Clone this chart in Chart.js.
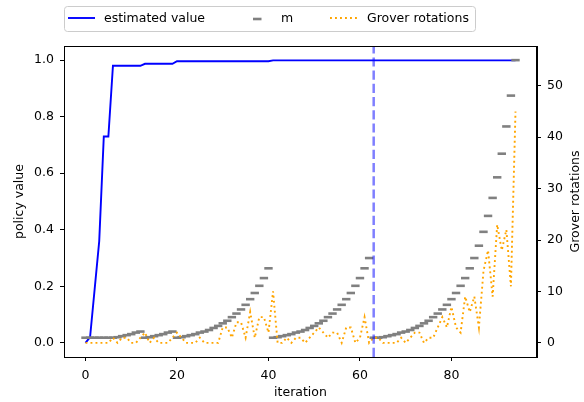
<!DOCTYPE html>
<html>
<head>
<meta charset="utf-8">
<script src="https://cdn.jsdelivr.net/npm/chart.js@4.4.0/dist/chart.umd.min.js"></script>
<style>
  html, body { margin: 0; padding: 0; background: #fff; }
</style>
</head>
<body>
<canvas id="chart" width="584" height="402"></canvas>
<script>
// iteration index (x axis)
const iterations = [
  0, 1, 2, 3, 4, 5, 6, 7, 8, 9, 10, 11, 12, 13, 14, 15, 16, 17, 18, 19,
  20, 21, 22, 23, 24, 25, 26, 27, 28, 29, 30, 31, 32, 33, 34, 35, 36, 37, 38, 39,
  40, 41, 42, 43, 44, 45, 46, 47, 48, 49, 50, 51, 52, 53, 54, 55, 56, 57, 58, 59,
  60, 61, 62, 63, 64, 65, 66, 67, 68, 69, 70, 71, 72, 73, 74, 75, 76, 77, 78, 79,
  80, 81, 82, 83, 84, 85, 86, 87, 88, 89, 90, 91, 92, 93, 94
];

// policy value (left axis)
const estimatedValue = [
  0.0, 0.02, 0.19, 0.36, 0.73, 0.73,
  0.98, 0.98, 0.98, 0.98, 0.98, 0.98, 0.98,
  0.987, 0.987, 0.987, 0.987, 0.987, 0.987, 0.987,
  0.996, 0.996, 0.996, 0.996, 0.996, 0.996, 0.996, 0.996, 0.996, 0.996, 0.996,
  0.996, 0.996, 0.996, 0.996, 0.996, 0.996, 0.996, 0.996, 0.996, 0.996,
  0.999, 0.999, 0.999, 0.999, 0.999, 0.999, 0.999, 0.999, 0.999, 0.999,
  0.999, 0.999, 0.999, 0.999, 0.999, 0.999, 0.999, 0.999, 0.999, 0.999,
  0.999, 0.999, 0.999, 0.999, 0.999, 0.999, 0.999, 0.999, 0.999, 0.999,
  0.999, 0.999, 0.999, 0.999, 0.999, 0.999, 0.999, 0.999, 0.999, 0.999,
  0.999, 0.999, 0.999, 0.999, 0.999, 0.999, 0.999, 0.999, 0.999, 0.999,
  0.999, 0.999, 0.999, 0.999
];

// m (right axis)
const mValues = [
  1, 1, 1, 1, 1, 1, 1,
  1.1, 1.3, 1.5, 1.7, 2.0, 2.2,
  1, 1.1, 1.3, 1.5, 1.7, 2.0, 2.2,
  1, 1.1, 1.3, 1.5, 1.7, 2.0, 2.2, 2.5, 2.9, 3.3, 3.8, 4.3, 5.0, 5.7, 6.5, 7.4,
  8.5, 9.7, 11.1, 12.6, 14.5,
  1, 1.1, 1.3, 1.5, 1.7, 2.0, 2.2, 2.5, 2.9, 3.3, 3.8, 4.3, 5.0, 5.7, 6.5, 7.4,
  8.5, 9.7, 11.1, 12.6, 14.5, 16.5,
  1,
  1, 1.1, 1.3, 1.5, 1.7, 2.0, 2.2, 2.5, 2.9, 3.3, 3.8, 4.3, 5.0, 5.7, 6.5, 7.4,
  8.5, 9.7, 11.1, 12.6, 14.5, 16.5, 18.9, 21.6, 24.7, 28.2, 32.2, 36.8, 42.1,
  48.1, 55.0
];

// Grover rotations (right axis)
const groverRotations = [
  0, 0, 0, 0, 0, 0, 1, 0, 1, 1, 0, 0, 1, 2, 0, 1, 0, 0, 0, 1,
  2, 1, 0, 0, 0, 1, 0, 0, 0, 0, 3, 3, 1, 4, 4, 1, 6, 1, 5, 5,
  2, 10, 0, 0, 1, 0, 1, 1, 0, 1, 2, 3, 2, 1, 2, 2, 0, 3, 3, 0,
  1, 5, 0, 1, 1, 0, 0, 0, 0, 1, 0, 1, 2, 2, 0, 1, 1, 3, 5, 3,
  7, 3, 2, 9, 6, 9, 3, 14, 18, 9, 23, 18, 22, 11, 45
];

const markerIteration = 63;
const xTicks = [0, 20, 40, 60, 80];
const leftTicks = [0, 0.2, 0.4, 0.6, 0.8, 1.0];
const rightTicks = [0, 10, 20, 30, 40, 50];

const FONT = "'DejaVu Sans', sans-serif";
const FS = 12.5;

const pts = ys => iterations.map((x, i) => ({ x: x, y: ys[i] }));
const setTicks = list => scale => { scale.ticks = list.map(v => ({ value: v })); };

const extras = {
  id: 'extras',
  afterDatasetsDraw(chart) {
    const { ctx, chartArea: a, scales } = chart;
    // vertical dashed marker
    const xv = scales.x.getPixelForValue(markerIteration);
    ctx.save();
    ctx.strokeStyle = 'rgba(0,0,255,0.5)';
    ctx.lineWidth = 2.5;
    ctx.setLineDash([9.2, 4]);
    ctx.beginPath();
    ctx.moveTo(xv, a.bottom);
    ctx.lineTo(xv, a.top);
    ctx.stroke();
    ctx.restore();
  },
  afterDraw(chart) {
    const { ctx, chartArea: a } = chart;
    ctx.save();
    // frame
    ctx.strokeStyle = '#000';
    ctx.lineWidth = 1;
    ctx.strokeRect(Math.round(a.left) + 0.5, Math.round(a.top) + 0.5,
      Math.round(a.right - a.left) - 1, Math.round(a.bottom - a.top));

    // axis titles
    ctx.fillStyle = '#000';
    ctx.font = FS + 'px ' + FONT;
    ctx.textAlign = 'center';
    ctx.textBaseline = 'middle';
    ctx.fillText('iteration', (a.left + a.right) / 2, 393);
    const cy = (a.top + a.bottom) / 2;
    ctx.save();
    ctx.translate(20, cy);
    ctx.rotate(-Math.PI / 2);
    ctx.fillText('policy value', 0, 0);
    ctx.restore();
    ctx.save();
    ctx.translate(576, cy);
    ctx.rotate(-Math.PI / 2);
    ctx.fillText('Grover rotations', 0, 0);
    ctx.restore();

    // legend
    const lx = 64.5, ly = 6.5, lw = 411, lh = 25, my = 18.5;
    ctx.fillStyle = 'rgba(255,255,255,0.8)';
    ctx.strokeStyle = '#cccccc';
    ctx.lineWidth = 1;
    ctx.beginPath();
    ctx.roundRect(lx, ly, lw, lh, 3);
    ctx.fill();
    ctx.stroke();

    ctx.lineWidth = 1.9;
    ctx.strokeStyle = '#0000ff';
    ctx.beginPath();
    ctx.moveTo(68, my - 0.5);
    ctx.lineTo(95, my - 0.5);
    ctx.stroke();

    ctx.lineWidth = 2.6;
    ctx.strokeStyle = '#808080';
    ctx.beginPath();
    ctx.moveTo(253, my + 0.5);
    ctx.lineTo(261.5, my + 0.5);
    ctx.stroke();

    ctx.lineWidth = 1.9;
    ctx.strokeStyle = '#ffa500';
    ctx.setLineDash([1.9, 3.1]);
    ctx.beginPath();
    ctx.moveTo(330, my - 0.5);
    ctx.lineTo(357, my - 0.5);
    ctx.stroke();
    ctx.setLineDash([]);

    ctx.fillStyle = '#000';
    ctx.textAlign = 'left';
    ctx.fillText('estimated value', 104, my);
    ctx.fillText('m', 281, my);
    ctx.fillText('Grover rotations', 367, my);
    ctx.restore();
  }
};

const axisCommon = {
  grid: { drawOnChartArea: false, drawTicks: true, tickLength: 4, color: '#000', lineWidth: 1 },
  border: { display: true, color: '#000', width: 1 },
  ticks: { color: '#000', font: { family: FONT, size: FS }, padding: 5, maxRotation: 0, autoSkip: false }
};

new Chart(document.getElementById('chart'), {
  type: 'line',
  data: {
    datasets: [
      {
        label: 'estimated value',
        data: pts(estimatedValue),
        yAxisID: 'y',
        borderColor: '#0000ff',
        borderWidth: 1.9,
        pointRadius: 0,
        tension: 0,
        order: 2
      },
      {
        label: 'm',
        data: pts(mValues),
        yAxisID: 'y1',
        showLine: false,
        pointStyle: 'line',
        pointRadius: 4.2,
        pointBorderWidth: 2.6,
        borderColor: '#808080',
        backgroundColor: '#808080',
        order: 1
      },
      {
        label: 'Grover rotations',
        data: pts(groverRotations),
        yAxisID: 'y1',
        borderColor: '#ffa500',
        borderWidth: 1.9,
        borderDash: [1.9, 3.1],
        pointRadius: 0,
        tension: 0,
        order: 0
      }
    ]
  },
  options: {
    responsive: false,
    animation: false,
    layout: { padding: { top: 46, left: 0, right: 0, bottom: 0 } },
    plugins: { legend: { display: false }, tooltip: { enabled: false } },
    scales: {
      x: {
        type: 'linear',
        position: 'bottom',
        min: -4.7,
        max: 98.7,
        afterBuildTicks: setTicks(xTicks),
        afterFit: s => { s.height = 45; },
        ...axisCommon,
        ticks: { ...axisCommon.ticks, padding: 7 }
      },
      y: {
        position: 'left',
        min: -0.05,
        max: 1.05,
        afterBuildTicks: setTicks(leftTicks),
        afterFit: s => { s.width = 64; },
        ...axisCommon,
        ticks: { ...axisCommon.ticks, padding: 6, callback: v => v.toFixed(1) }
      },
      y1: {
        position: 'right',
        min: -2.75,
        max: 57.75,
        afterBuildTicks: setTicks(rightTicks),
        afterFit: s => { s.width = 47; },
        ...axisCommon,
        ticks: { ...axisCommon.ticks, padding: 6 }
      }
    }
  },
  plugins: [extras]
});
</script>
</body>
</html>
